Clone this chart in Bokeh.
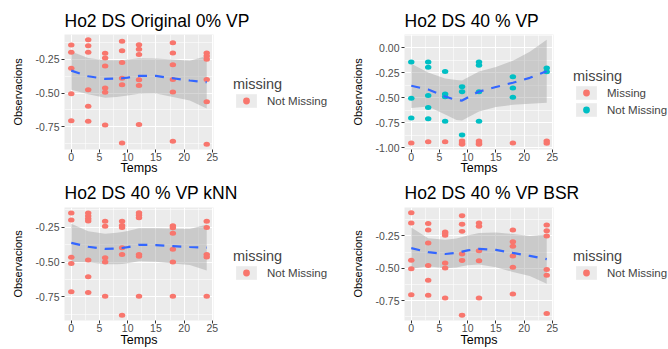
from bokeh.plotting import figure
from bokeh.layouts import column, row
from bokeh.models import (Range1d, FixedTicker, NumeralTickFormatter, Legend,
                          LegendItem)
from bokeh.embed import file_html
from bokeh.resources import INLINE

# ---------------------------------------------------------------- data
# Observed values per sampling time (Temps, h)
orig_time = [0, 0, 0, 0, 0,
             3, 3, 3, 3, 3, 3,
             6, 6, 6, 6, 6, 6,
             9, 9, 9, 9, 9, 9,
             12, 12, 12, 12, 12, 12,
             18, 18, 18, 18, 18, 18,
             24, 24, 24, 24, 24, 24]
orig_obs = [-0.142, -0.196, -0.316, -0.505, -0.706,
            -0.103, -0.147, -0.196, -0.475, -0.598, -0.711,
            -0.203, -0.240, -0.299, -0.463, -0.495, -0.738,
            -0.115, -0.186, -0.272, -0.390, -0.439, -0.873,
            -0.140, -0.174, -0.213, -0.402, -0.444, -0.735,
            -0.125, -0.201, -0.289, -0.400, -0.493, -0.860,
            -0.201, -0.225, -0.248, -0.400, -0.566, -0.882]

# 40 % missing values: kept observations and flagged missing ones
vp_kept_time = [0, 0, 0, 3, 3, 3, 3, 3, 6, 6, 6, 6, 9, 9, 9,
                12, 12, 12, 12, 18, 18, 18, 24, 24]
vp_kept_obs = [-0.145, -0.507, -0.704,
               -0.145, -0.197, -0.480, -0.599, -0.711,
               -0.240, -0.464, -0.493, -0.737,
               -0.391, -0.441, -0.875,
               -0.145, -0.178, -0.441, -0.737,
               -0.293, -0.405, -0.497,
               -0.204, -0.243]
vp_miss_time = [0, 3, 6, 9, 9, 9, 12, 12, 12, 18, 24, 24]
vp_miss_obs = [-0.954, -0.941, -0.941, -0.934, -0.954, -0.967,
               -0.934, -0.954, -0.967, -0.954, -0.934, -0.957]

# kNN imputation
knn_time = [0, 0, 0, 0, 0,
            3, 3, 3, 3, 3, 3, 3,
            6, 6, 6, 6, 6,
            9, 9, 9, 9, 9, 9,
            12, 12, 12, 12, 12, 12,
            18, 18, 18, 18, 18, 18,
            24, 24, 24, 24, 24]
knn_obs = [-0.146, -0.197, -0.465, -0.509, -0.713,
           -0.146, -0.169, -0.188, -0.204, -0.484, -0.604, -0.718,
           -0.206, -0.241, -0.468, -0.498, -0.745,
           -0.206, -0.236, -0.250, -0.396, -0.444, -0.882,
           -0.144, -0.162, -0.181, -0.444, -0.458, -0.745,
           -0.238, -0.252, -0.292, -0.407, -0.498, -0.745,
           -0.206, -0.250, -0.444, -0.463, -0.745]

# BSR imputation
bsr_time = [0, 0, 0, 0, 0,
            3, 3, 3, 3, 3, 3,
            6, 6, 6, 6, 6, 6,
            9, 9, 9, 9, 9, 9,
            12, 12, 12, 12, 12,
            18, 18, 18, 18, 18, 18,
            24, 24, 24, 24, 24, 24, 24]
bsr_obs = [-0.070, -0.150, -0.438, -0.505, -0.705,
           -0.155, -0.205, -0.305, -0.480, -0.593, -0.710,
           -0.220, -0.230, -0.245, -0.460, -0.498, -0.730,
           -0.095, -0.160, -0.215, -0.390, -0.440, -0.865,
           -0.150, -0.175, -0.365, -0.443, -0.730,
           -0.205, -0.295, -0.330, -0.405, -0.493, -0.700,
           -0.165, -0.210, -0.250, -0.510, -0.555, -0.850]

# Loess trend with its confidence band, evaluated on a common grid
smooth_time = [0, 3, 6, 8, 9, 10, 12, 15, 18, 21, 24]

orig_fit = [-0.333, -0.375, -0.395, -0.393, -0.390, -0.385, -0.373, -0.373, -0.390, -0.407, -0.420]
orig_hi = [-0.191, -0.240, -0.255, -0.256, -0.255, -0.251, -0.241, -0.243, -0.250, -0.259, -0.225]
orig_lo = [-0.475, -0.510, -0.535, -0.530, -0.525, -0.519, -0.505, -0.503, -0.530, -0.555, -0.615]

vp_fit = [-0.382, -0.420, -0.490, -0.525, -0.530, -0.500, -0.440, -0.395, -0.352, -0.303, -0.237]
vp_hi = [-0.161, -0.250, -0.310, -0.325, -0.330, -0.300, -0.240, -0.195, -0.132, -0.043, 0.078]
vp_lo = [-0.605, -0.590, -0.670, -0.725, -0.730, -0.700, -0.640, -0.595, -0.572, -0.563, -0.552]

knn_fit = [-0.361, -0.389, -0.405, -0.402, -0.398, -0.392, -0.375, -0.377, -0.384, -0.391, -0.395]
knn_hi = [-0.224, -0.277, -0.295, -0.289, -0.283, -0.276, -0.257, -0.257, -0.259, -0.261, -0.230]
knn_lo = [-0.498, -0.501, -0.515, -0.515, -0.513, -0.508, -0.493, -0.497, -0.509, -0.521, -0.560]

bsr_fit = [-0.345, -0.376, -0.390, -0.382, -0.372, -0.362, -0.350, -0.358, -0.382, -0.405, -0.430]
bsr_hi = [-0.185, -0.268, -0.280, -0.270, -0.259, -0.247, -0.228, -0.224, -0.235, -0.250, -0.240]
bsr_lo = [-0.505, -0.484, -0.500, -0.494, -0.485, -0.477, -0.472, -0.492, -0.529, -0.560, -0.620]

# Axis ticks
x_ticks = [0, 5, 10, 15, 20, 25]
x_minor = [2.5, 7.5, 12.5, 17.5, 22.5]
y_ticks = [-1.0, -0.75, -0.5, -0.25, 0.0]
y_minor = [-0.875, -0.625, -0.375, -0.125, 0.125]

# ---------------------------------------------------------------- style
FONT = "Liberation Sans"
PANEL_BG = "#EBEBEB"
RED = "#F8766D"
TEAL = "#00BFC4"
NAN = float("nan")
CELL_W = 334
FRAME_W = 149
RIGHT_PAD = 12


def y_limits(*series):
    vals = [v for s in series for v in s]
    lo, hi = min(vals), max(vals)
    pad = 0.05 * (hi - lo)
    return lo - pad, hi + pad


def blank(width, height, **kw):
    f = figure(width=width, height=height, output_backend="svg", toolbar_location=None,
               x_range=Range1d(0, 1), y_range=Range1d(0, 1),
               x_axis_location=None, y_axis_location=None,
               background_fill_color="white", border_fill_color="white",
               outline_line_color=None, **kw)
    f.grid.visible = False
    return f


def title_strip(text, left, height, baseline_gap):
    """Full-width strip carrying the panel title, left-aligned on the plot area."""
    t = blank(CELL_W, height, min_border_left=left, min_border_right=0,
              min_border_top=height - 2, min_border_bottom=0)
    t.title.text = text
    t.title.text_font = FONT
    t.title.text_font_size = "17.5px"
    t.title.text_font_style = "normal"
    t.title.text_color = "black"
    t.title.align = "left"
    t.title.offset = 0
    t.title.standoff = baseline_gap
    return t


def panel(height, left, label_standoff, ylim):
    p = figure(width=left + FRAME_W + RIGHT_PAD, height=height,
               output_backend="svg", toolbar_location=None,
               x_range=Range1d(-1.2, 25.2), y_range=Range1d(*ylim),
               min_border_left=left, min_border_right=RIGHT_PAD,
               min_border_top=0, min_border_bottom=25,
               background_fill_color=PANEL_BG, border_fill_color="white",
               outline_line_color=None)
    p.xaxis.ticker = FixedTicker(ticks=x_ticks, minor_ticks=x_minor)
    p.yaxis.ticker = FixedTicker(ticks=y_ticks, minor_ticks=y_minor)
    p.yaxis.formatter = NumeralTickFormatter(format="0.00")
    p.xaxis.axis_label = "Temps"
    p.yaxis.axis_label = "Observacions"
    for ax in (p.xaxis[0], p.yaxis[0]):
        ax.axis_line_color = None
        ax.major_tick_line_color = "#333333"
        ax.major_tick_in = 0
        ax.major_tick_out = 3
        ax.minor_tick_line_color = None
        ax.major_label_text_font = FONT
        ax.major_label_text_font_size = "10.5px"
        ax.major_label_text_color = "#4D4D4D"
        ax.axis_label_text_font = FONT
        ax.axis_label_text_font_style = "normal"
        ax.axis_label_text_color = "black"
    p.xaxis.major_label_standoff = -1
    p.xaxis.axis_label_standoff = label_standoff
    p.xaxis.axis_label_text_font_size = "12.5px"
    p.yaxis.major_label_standoff = 1
    p.yaxis.axis_label_standoff = 9
    p.yaxis.axis_label_text_font_size = "11px"

    for g in (p.xgrid[0], p.ygrid[0]):
        g.grid_line_color = "white"
        g.grid_line_width = 1.1
        g.minor_grid_line_color = "white"
        g.minor_grid_line_width = 0.55
    return p


def trend(p, lo, hi):
    p.varea(x=smooth_time, y1=lo, y2=hi, fill_color="#999999", fill_alpha=0.4)


def trend_line(p, fit):
    p.line(smooth_time, fit, line_color="#3366FF", line_width=2.2, line_dash="9 8")


def points(p, t, y, color):
    p.ellipse(x=t, y=y, width=6.5, height=5, width_units="screen",
              height_units="screen", fill_color=color, line_color=None)


def legend_box(main, entries, vy):
    """Side box holding the colour legend of the panel to its left."""
    q = blank(CELL_W - main.width, main.height, min_border=0)
    items = []
    for label, color in entries:
        key = q.quad(left=[NAN], right=[NAN], top=[NAN], bottom=[NAN],
                     fill_color=PANEL_BG, line_color=None)
        dot = q.scatter(x=[NAN], y=[NAN], marker="circle", size=5,
                        fill_color=color, line_color=None)
        items.append(LegendItem(label=label, renderers=[key, dot]))
    lg = Legend(items=items, location=(8, vy), title="missing",
                title_text_font=FONT, title_text_font_size="14.5px",
                title_text_font_style="normal", title_standoff=0,
                label_text_font=FONT, label_text_font_size="11.5px",
                label_standoff=8, label_height=17, glyph_width=26, glyph_height=17,
                spacing=0, padding=3, margin=0,
                border_line_color=None, background_fill_alpha=0)
    q.add_layout(lg)
    return q


# ---------------------------------------------------------------- panels
t1 = title_strip("Ho2 DS Original 0% VP", 64, 34, 4)
p1 = panel(143, 64, -3, y_limits(orig_obs, orig_lo, orig_hi))
trend(p1, orig_lo, orig_hi)
points(p1, orig_time, orig_obs, RED)
trend_line(p1, orig_fit)
l1 = legend_box(p1, [("Not Missing", RED)], 39.6)

t2 = title_strip("Ho2 DS 40 % VP", 70, 34, 4)
p2 = panel(143, 70, -3, y_limits(vp_kept_obs, vp_miss_obs, vp_lo, vp_hi))
trend(p2, vp_lo, vp_hi)
points(p2, vp_miss_time, vp_miss_obs, RED)
points(p2, vp_kept_time, vp_kept_obs, TEAL)
trend_line(p2, vp_fit)
l2 = legend_box(p2, [("Missing", RED), ("Not Missing", TEAL)], 30.9)

t3 = title_strip("Ho2 DS 40 % VP kNN", 64, 30, 5)
p3 = panel(142, 64, -2, y_limits(knn_obs, knn_lo, knn_hi))
trend(p3, knn_lo, knn_hi)
points(p3, knn_time, knn_obs, RED)
trend_line(p3, knn_fit)
l3 = legend_box(p3, [("Not Missing", RED)], 39.0)

t4 = title_strip("Ho2 DS 40 % VP BSR", 70, 30, 5)
p4 = panel(142, 70, -2, y_limits(bsr_obs, bsr_lo, bsr_hi))
trend(p4, bsr_lo, bsr_hi)
points(p4, bsr_time, bsr_obs, RED)
trend_line(p4, bsr_fit)
l4 = legend_box(p4, [("Not Missing", RED)], 39.0)

page = column(row(t1, t2), row(p1, l1, p2, l2),
              row(t3, t4), row(p3, l3, p4, l4))

open("out.html", "w").write(file_html(page, INLINE))
